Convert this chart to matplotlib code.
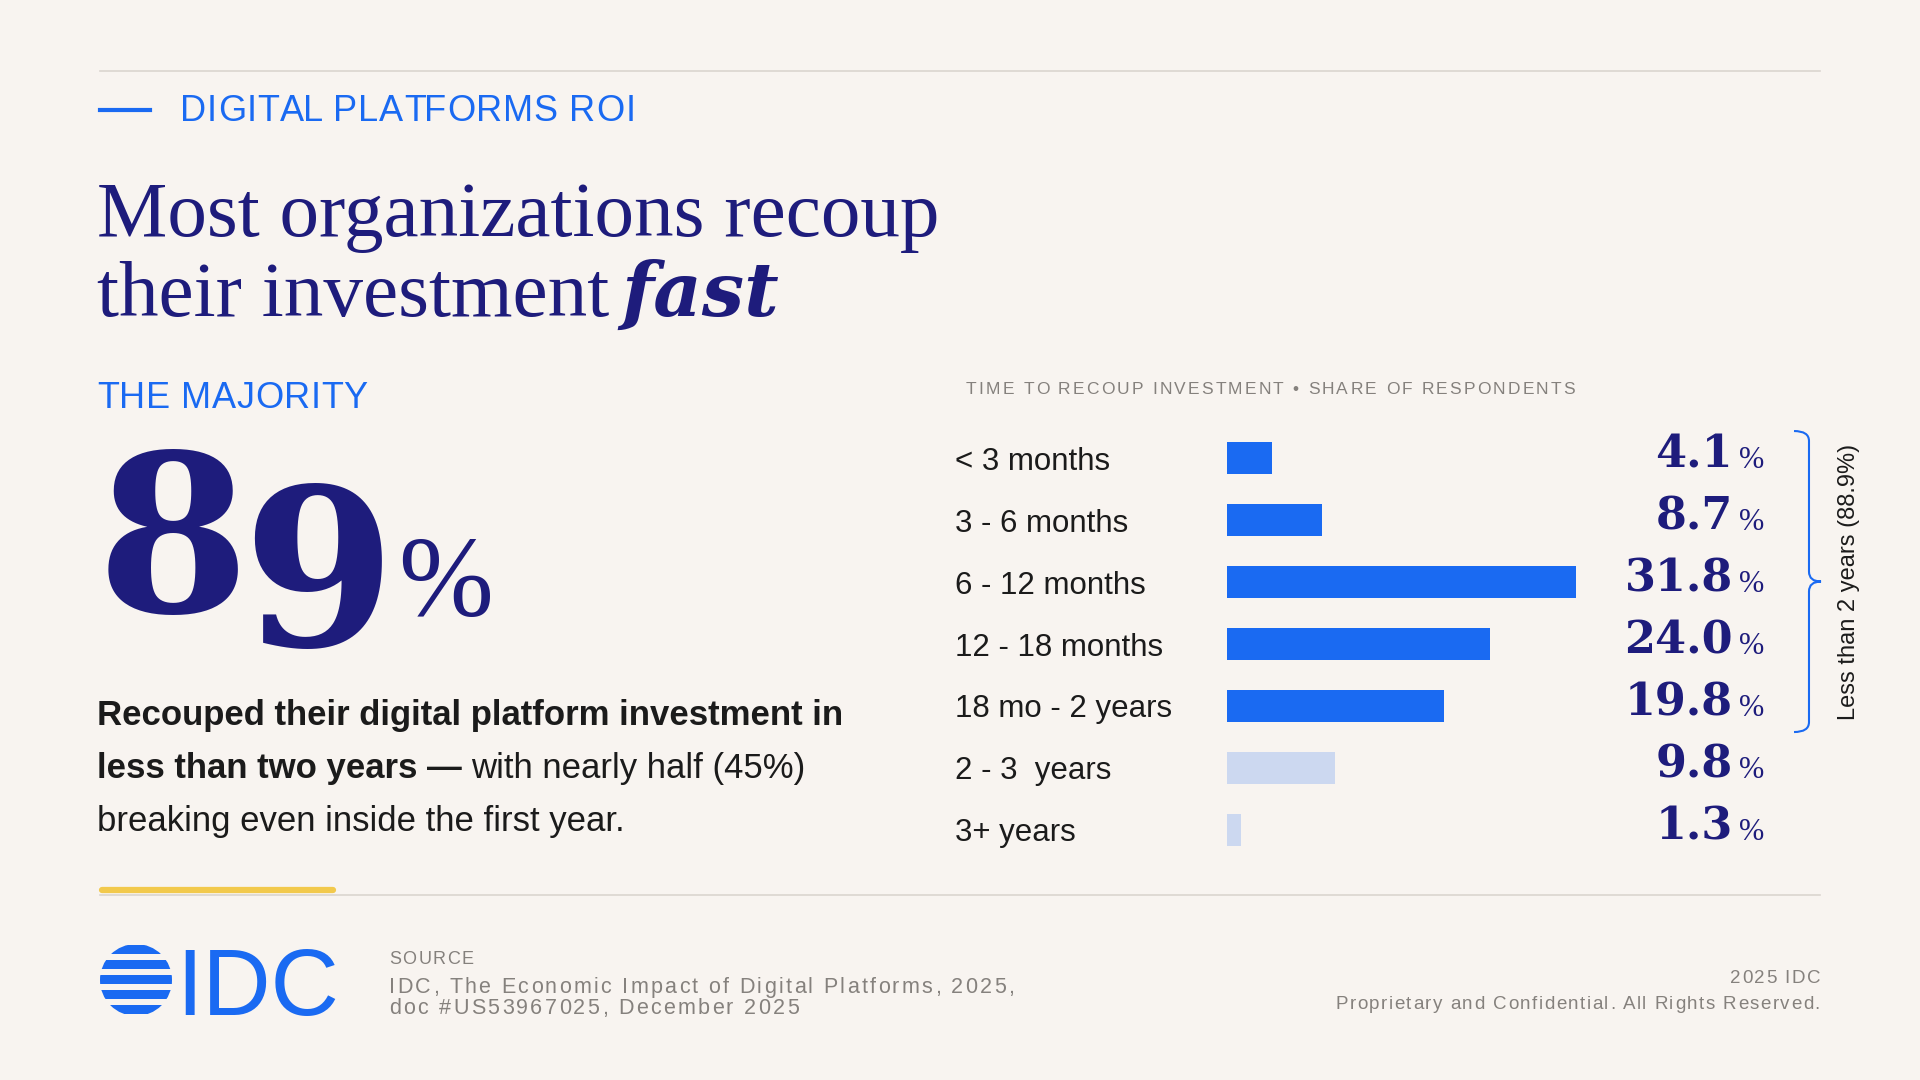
"""
IDC digital platforms ROI card: big 89% callout + time-to-recoup bars.
"""
import matplotlib
matplotlib.use("Agg")
import matplotlib.pyplot as plt
from matplotlib.patches import Rectangle, Circle, PathPatch
from matplotlib.path import Path

plt.rcParams["font.family"] = ["Liberation Sans", "DejaVu Sans"]

BG     = "#F8F4F0"
NAVY   = "#1E1C7C"
BLUE   = "#1A6AF2"
LIGHT  = "#CCD8F0"
INK    = "#1B1B1B"
GREY   = "#85817D"
RULE   = "#DAD5CF"
YELLOW = "#F2C94C"

# ── data ──────────────────────────────────────────────
categories = ["< 3 months", "3 - 6 months", "6 - 12 months", "12 - 18 months",
              "18 mo - 2 years", "2 - 3  years", "3+ years"]
shares     = [4.1, 8.7, 31.8, 24.0, 19.8, 9.8, 1.3]
under_two  = [True, True, True, True, True, False, False]
headline_pct  = "89"
bracket_label = "Less than 2 years (88.9%)"

# ── canvas: overlay axes in pixel units ───────────────
fig = plt.figure(figsize=(19.2, 10.8), dpi=100, facecolor=BG)
ov = fig.add_axes([0, 0, 1, 1])
ov.set_xlim(0, 1920)
ov.set_ylim(1080, 0)
ov.axis("off")
renderer = fig.canvas.get_renderer()


def width(s, **kw):
    t = ov.text(0, 0, s, **kw)
    w = t.get_window_extent(renderer).width
    t.remove()
    return w


def tracked(x, y, s, track=0.0, ha="left", **kw):
    """text with letter spacing, baseline at y"""
    bar = width("|", **kw)
    offs = [0 if i == 0 else width(s[:i] + "|", **kw) - bar + i * track
            for i in range(len(s))]
    if ha == "right":
        x -= width(s, **kw) + track * (len(s) - 1)
    for ch, o in zip(s, offs):
        ov.text(x + o, y, ch, ha="left", va="baseline", **kw)


# rules
ov.plot([100, 1820], [71, 71], color=RULE, lw=1.2)
ov.plot([100, 1820], [895, 895], color=RULE, lw=1.2)
ov.plot([102, 333], [890, 890], color=YELLOW, lw=4.5, solid_capstyle="round")

# kicker
ov.plot([100, 150], [110, 110], color=BLUE, lw=3)
tracked(180, 121, "DIGITAL PLATFORMS ROI", 0.8, fontsize=26, color=BLUE)

# headline
serif = dict(family="Liberation Serif", color=NAVY)
ov.text(97, 236, "Most organizations recoup", fontsize=57, va="baseline", **serif)
ov.text(97, 316, "their investment", fontsize=57, va="baseline", **serif)
x_fast = 97 + width("their investment", fontsize=57, **serif) + 12
ov.text(x_fast, 316, "fast", fontsize=54, va="baseline", fontweight="bold",
        style="italic", family="DejaVu Serif", color=NAVY)

# big number
tracked(97, 408, "THE MAJORITY", 0.5, fontsize=26, color=BLUE)
big = dict(family="DejaVu Serif", color=NAVY, fontweight="bold", fontsize=158)
ov.text(97, 612, headline_pct[0], va="baseline", **big)
x9 = 97 + width(headline_pct[0], **big) - 8
ov.text(x9, 646, headline_pct[1], va="baseline", **big)
ov.text(398, 615, "%", va="baseline", fontsize=82, **serif)

# body copy
body = dict(fontsize=25, color=INK, va="baseline")
ov.text(97, 725, "Recouped their digital platform investment in",
        fontweight="bold", **body)
bold2 = "less than two years \u2014"
ov.text(97, 778, bold2, fontweight="bold", **body)
x_reg = 97 + width(bold2, fontsize=25, fontweight="bold") + 9
ov.text(x_reg, 778, "with nearly half (45%)", **body)
ov.text(97, 831, "breaking even inside the first year.", **body)

# ── bar chart ─────────────────────────────────────────
tracked(966, 394, "TIME TO RECOUP INVESTMENT \u2022 SHARE OF RESPONDENTS", 2.2,
        fontsize=12.5, color=GREY)

ax = fig.add_axes([1227 / 1920, (1080 - 861) / 1080, 384 / 1920, 434 / 1080])
ax.set_facecolor("none")
ypos = list(range(len(categories)))
ax.barh(ypos, shares, height=0.53,
        color=[BLUE if u else LIGHT for u in under_two])
ax.set_xlim(0, 35)
ax.set_ylim(len(categories) - 0.5, -0.5)
ax.axis("off")

yx = ax.get_yaxis_transform()   # x in axes fraction, y in data
for y, cat, v in zip(ypos, categories, shares):
    ax.text(-0.7083, y, cat, transform=yx, ha="left",
            va="center_baseline", fontsize=22.5, color=INK)
    ax.text(1.318, y + 0.16, f"{v:.1f}", transform=yx, ha="right",
            va="baseline", family="DejaVu Serif", fontweight="bold",
            fontsize=32, color=NAVY)
    ax.text(1.333, y + 0.16, "%", transform=yx, ha="left", va="baseline",
            family="Liberation Serif", fontsize=22, color=NAVY)

# brace over the under-two-years rows
x0, x1, x2 = 1.4766, 1.5156, 1.547
ytop, ybot = -0.435, 4.42
ymid, r = (ytop + ybot) / 2, 0.16
verts = [(x0, ytop), (x1, ytop), (x1, ytop + r),
         (x1, ymid - r), (x1, ymid), (x2, ymid),
         (x1, ymid), (x1, ymid + r),
         (x1, ybot - r), (x1, ybot), (x0, ybot)]
codes = [Path.MOVETO, Path.CURVE3, Path.CURVE3,
         Path.LINETO, Path.CURVE3, Path.CURVE3,
         Path.CURVE3, Path.CURVE3,
         Path.LINETO, Path.CURVE3, Path.CURVE3]
ax.add_patch(PathPatch(Path(verts, codes), fill=False, edgecolor=BLUE, lw=1.5,
                       transform=yx, clip_on=False))
ax.text(1.62, ymid, bracket_label, transform=yx, rotation=90, ha="center",
        va="center", fontsize=17, color=INK)

# ── footer ────────────────────────────────────────────
globe = Circle((136, 980), 36, transform=ov.transData)
for top in [945, 960, 975, 990, 1005]:
    band = Rectangle((95, top), 85, 9, color=BLUE, lw=0)
    ov.add_patch(band)
    band.set_clip_path(globe)
ov.text(176, 1015, "IDC", fontsize=68, color=BLUE, va="baseline")

tracked(389, 964, "SOURCE", 1.6, fontsize=13, color=GREY)
tracked(389, 993, "IDC, The Economic Impact of Digital Platforms, 2025,", 2.3,
        fontsize=15.5, color=GREY)
tracked(389, 1014, "doc #US53967025, December 2025", 2.3, fontsize=15.5,
        color=GREY)
tracked(1820, 983, "2025 IDC", 1.5, ha="right", fontsize=13.5, color=GREY)
tracked(1820, 1009, "Proprietary and Confidential. All Rights Reserved.", 1.5,
        ha="right", fontsize=13.5, color=GREY)

fig.savefig("out.png", dpi=100, facecolor=BG)
